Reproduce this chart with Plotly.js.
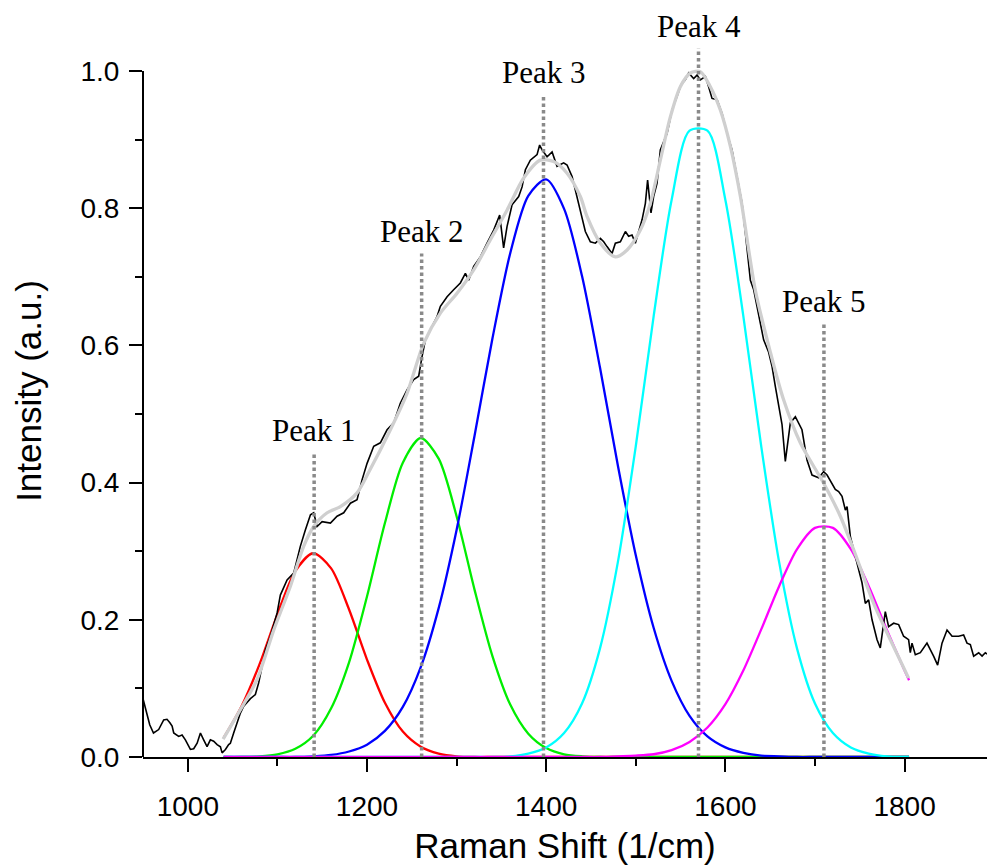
<!DOCTYPE html>
<html><head><meta charset="utf-8">
<script src="https://cdn.plot.ly/plotly-3.0.1.min.js"></script>
<style>html,body{margin:0;padding:0;background:#fff}</style>
</head><body><div id="chart" style="width:987px;height:865px"></div>
<script>
// Measured spectrum (black)
const rawShift = [950.0,953.8,957.5,961.7,967.5,973.1,976.8,980.0,982.5,984.3,989.8,993.6,997.3,1002.9,1006.6,1010.4,1014.1,1017.7,1021.5,1025.2,1028.9,1032.7,1036.4,1038.3,1042.0,1045.6,1047.5,1051.2,1056.8,1058.7,1062.4,1069.9,1075.4,1079.1,1082.9,1086.6,1092.2,1099.7,1103.3,1110.8,1118.2,1125.6,1131.2,1136.9,1140.5,1144.3,1149.9,1159.2,1166.6,1174.0,1181.5,1188.9,1194.5,1200.1,1207.5,1214.9,1222.4,1229.8,1237.3,1244.7,1252.1,1257.7,1261.5,1265.2,1270.8,1278.2,1281.9,1289.4,1296.7,1304.2,1309.8,1313.5,1319.1,1326.5,1334.0,1341.4,1348.1,1352.5,1356.3,1361.9,1369.3,1373.1,1376.8,1382.3,1389.8,1392.7,1395.4,1401.0,1406.6,1412.1,1419.5,1423.3,1428.9,1434.5,1440.0,1443.7,1449.3,1454.9,1460.5,1464.2,1467.9,1473.5,1477.2,1482.8,1488.4,1492.0,1495.8,1499.5,1503.2,1507.0,1510.7,1513.2,1517.0,1519.9,1523.7,1527.4,1534.9,1540.5,1546.1,1550.5,1555.3,1559.0,1564.6,1568.4,1572.1,1577.7,1581.3,1585.1,1590.7,1596.3,1601.9,1607.4,1613.0,1618.6,1622.3,1626.0,1627.9,1631.6,1637.1,1642.7,1648.3,1652.1,1655.8,1659.4,1663.2,1666.9,1672.5,1678.1,1685.5,1691.1,1696.7,1704.1,1709.7,1713.5,1719.0,1722.7,1726.4,1730.2,1733.9,1735.8,1739.5,1745.1,1748.7,1752.5,1756.2,1759.9,1763.7,1769.3,1772.9,1776.6,1778.5,1782.2,1787.8,1793.4,1798.9,1804.5,1806.4,1808.3,1812.0,1817.6,1825.0,1832.4,1836.9,1841.8,1847.4,1853.0,1860.3,1865.9,1869.7,1873.4,1877.1,1882.7,1886.5,1890.1,1892.0];
const rawIntensity = [0.085,0.064,0.047,0.035,0.040,0.054,0.055,0.050,0.045,0.035,0.030,0.032,0.025,0.011,0.012,0.020,0.035,0.025,0.015,0.025,0.023,0.018,0.015,0.006,0.011,0.018,0.020,0.035,0.059,0.064,0.074,0.085,0.091,0.108,0.132,0.156,0.176,0.210,0.236,0.258,0.268,0.307,0.331,0.353,0.356,0.336,0.343,0.341,0.351,0.356,0.370,0.375,0.404,0.428,0.453,0.458,0.477,0.487,0.516,0.535,0.550,0.555,0.584,0.608,0.623,0.642,0.657,0.671,0.681,0.691,0.705,0.695,0.715,0.729,0.749,0.768,0.790,0.742,0.773,0.805,0.817,0.831,0.856,0.870,0.878,0.892,0.885,0.875,0.882,0.861,0.866,0.863,0.846,0.817,0.788,0.766,0.751,0.749,0.756,0.751,0.744,0.734,0.749,0.751,0.766,0.759,0.761,0.749,0.766,0.783,0.807,0.841,0.793,0.817,0.836,0.885,0.909,0.943,0.963,0.980,0.987,0.997,0.989,0.994,0.987,0.992,0.977,0.960,0.958,0.938,0.909,0.885,0.846,0.807,0.764,0.715,0.695,0.681,0.642,0.608,0.590,0.569,0.540,0.511,0.485,0.431,0.487,0.496,0.477,0.433,0.411,0.407,0.416,0.411,0.399,0.390,0.387,0.380,0.360,0.365,0.321,0.292,0.273,0.254,0.224,0.229,0.200,0.171,0.159,0.190,0.212,0.190,0.195,0.193,0.176,0.171,0.152,0.166,0.149,0.152,0.166,0.147,0.134,0.166,0.185,0.176,0.176,0.178,0.166,0.164,0.147,0.152,0.147,0.152,0.150];

// Cumulative fit (grey)
const fitShift = [1039.4,1058.7,1077.3,1095.9,1114.5,1129.3,1140.5,1155.5,1170.3,1188.9,1201.9,1226.1,1244.7,1263.3,1281.9,1300.5,1319.1,1337.7,1356.3,1374.9,1393.5,1408.3,1423.3,1438.1,1445.6,1460.5,1477.2,1490.3,1505.1,1516.2,1527.4,1538.6,1549.7,1560.9,1572.1,1583.2,1594.4,1605.6,1616.8,1633.5,1650.2,1664.9,1683.6,1709.7,1728.3,1743.2,1765.5,1784.1,1804.5];
const fitIntensity = [0.026,0.069,0.113,0.185,0.249,0.307,0.336,0.356,0.365,0.385,0.415,0.477,0.530,0.603,0.647,0.676,0.710,0.754,0.797,0.844,0.870,0.868,0.851,0.817,0.788,0.749,0.729,0.739,0.768,0.807,0.870,0.933,0.977,0.997,0.999,0.977,0.943,0.890,0.817,0.680,0.590,0.521,0.458,0.399,0.351,0.302,0.224,0.171,0.115];

// Fitted peak components
const compShift = [1040,1060,1080,1100,1120,1140,1160,1180,1200,1220,1240,1260,1280,1300,1320,1340,1360,1380,1400,1420,1440,1460,1480,1500,1520,1540,1560,1580,1600,1620,1640,1660,1680,1700,1720,1740,1760,1780,1800,1805];
const peak1Values = [0.028,0.074,0.135,0.208,0.271,0.297,0.275,0.215,0.142,0.079,0.037,0.015,0.005,0.001,0,0,0,0,0,0,0,0,0,0,0,0,0,0,0,0,0,0,0,0,0,0,0,0,0,0];
const peak2Values = [0,0,0.001,0.004,0.012,0.031,0.071,0.138,0.234,0.341,0.429,0.465,0.435,0.351,0.244,0.147,0.076,0.034,0.013,0.004,0.001,0,0,0,0,0,0,0,0,0,0,0,0,0,0,0,0,0,0,0];
const peak3Values = [0,0,0,0,0,0.001,0.003,0.008,0.018,0.038,0.073,0.131,0.217,0.331,0.468,0.610,0.735,0.818,0.842,0.799,0.701,0.568,0.425,0.294,0.188,0.111,0.060,0.030,0.014,0.006,0.002,0.001,0,0,0,0,0,0,0,0];
const peak4Values = [0,0,0,0,0,0,0,0,0,0,0,0,0,0,0,0,0.001,0.005,0.014,0.035,0.078,0.158,0.284,0.453,0.643,0.812,0.913,0.913,0.812,0.643,0.453,0.284,0.158,0.078,0.035,0.014,0.005,0.001,0,0];
const peak5Values = [0,0,0,0,0,0,0,0,0,0,0,0,0,0,0,0,0,0,0,0,0,0,0.001,0.002,0.004,0.010,0.022,0.043,0.077,0.126,0.186,0.249,0.303,0.334,0.334,0.303,0.249,0.186,0.126,0.112];

// Peak markers
const peakLabels = ['Peak 1','Peak 2','Peak 3','Peak 4','Peak 5'];
const peakCenters = [1141,1261,1397,1570,1710];
const peakLineTops = [0.445,0.734,0.966,1.033,0.633];

const compColors = ['#ff0000','#00ee00','#0000ff','#00ffff','#ff00ff'];
const compValues = [peak1Values,peak2Values,peak3Values,peak4Values,peak5Values];

const traces = [];
compValues.forEach((vals,i)=>{
  traces.push({x:compShift,y:vals,type:'scatter',mode:'lines',name:peakLabels[i],
    line:{color:compColors[i],width:2.3,shape:'spline',smoothing:0.8},hoverinfo:'x+y'});
});
traces.push({x:rawShift,y:rawIntensity,type:'scatter',mode:'lines',name:'Spectrum',
  line:{color:'#000000',width:1.6}});
traces.push({x:fitShift,y:fitIntensity,type:'scatter',mode:'lines',name:'Cumulative fit',
  line:{color:'#cfcfcf',width:3.3,shape:'spline',smoothing:0.8}});
const dx=[],dy=[];
peakCenters.forEach((c,i)=>{dx.push(c,c,null);dy.push(0,peakLineTops[i],null);});
traces.push({x:dx,y:dy,type:'scatter',mode:'lines',name:'Peak centers',
  line:{color:'#8a8a8a',width:3.5,dash:'3.5px,3px'},hoverinfo:'skip'});

const tickFont={family:'Liberation Sans, Arial, sans-serif',size:28,color:'#000'};
const titleFont={family:'Liberation Sans, Arial, sans-serif',size:35,color:'#000'};

const layout={
  width:987,height:865,
  margin:{l:143,r:0,t:25,b:108},
  paper_bgcolor:'#fff',plot_bgcolor:'#fff',
  showlegend:false,
  xaxis:{range:[950,1892],showline:true,linewidth:2,linecolor:'#000',mirror:false,
    ticks:'outside',ticklen:13,tickwidth:2,tickcolor:'#000',tick0:1000,dtick:200,
    ticklabelstandoff:10,
    minor:{dtick:100,tick0:1000,ticks:'outside',ticklen:7,tickwidth:2,tickcolor:'#000',showgrid:false},
    showgrid:false,zeroline:false,tickfont:tickFont,layer:'below traces',
    title:{text:'Raman Shift (1/cm)',font:titleFont,standoff:28}},
  yaxis:{range:[0,1.067],showline:false,ticks:'outside',ticklen:13,tickwidth:2,tickcolor:'#000',
    tick0:0,dtick:0.2,tickformat:'.1f',ticklabelstandoff:4,
    minor:{dtick:0.1,tick0:0,ticks:'outside',ticklen:7,tickwidth:2,tickcolor:'#000',showgrid:false},
    showgrid:false,zeroline:false,tickfont:tickFont,
    title:{text:'Intensity (a.u.)',font:titleFont,standoff:28}},
  shapes:[{type:'line',xref:'paper',yref:'y',x0:0,x1:0,y0:0,y1:1.0,line:{color:'#000',width:2}}],
  annotations:peakLabels.map((t,i)=>({x:peakCenters[i],y:peakLineTops[i],xref:'x',yref:'y',
    text:t,showarrow:false,yanchor:'bottom',xanchor:'center',yshift:2,
    font:{family:'Liberation Serif, Times New Roman, serif',size:31,color:'#000'}}))
};
Plotly.newPlot('chart',traces,layout,{displayModeBar:false,staticPlot:true});
</script></body></html>
